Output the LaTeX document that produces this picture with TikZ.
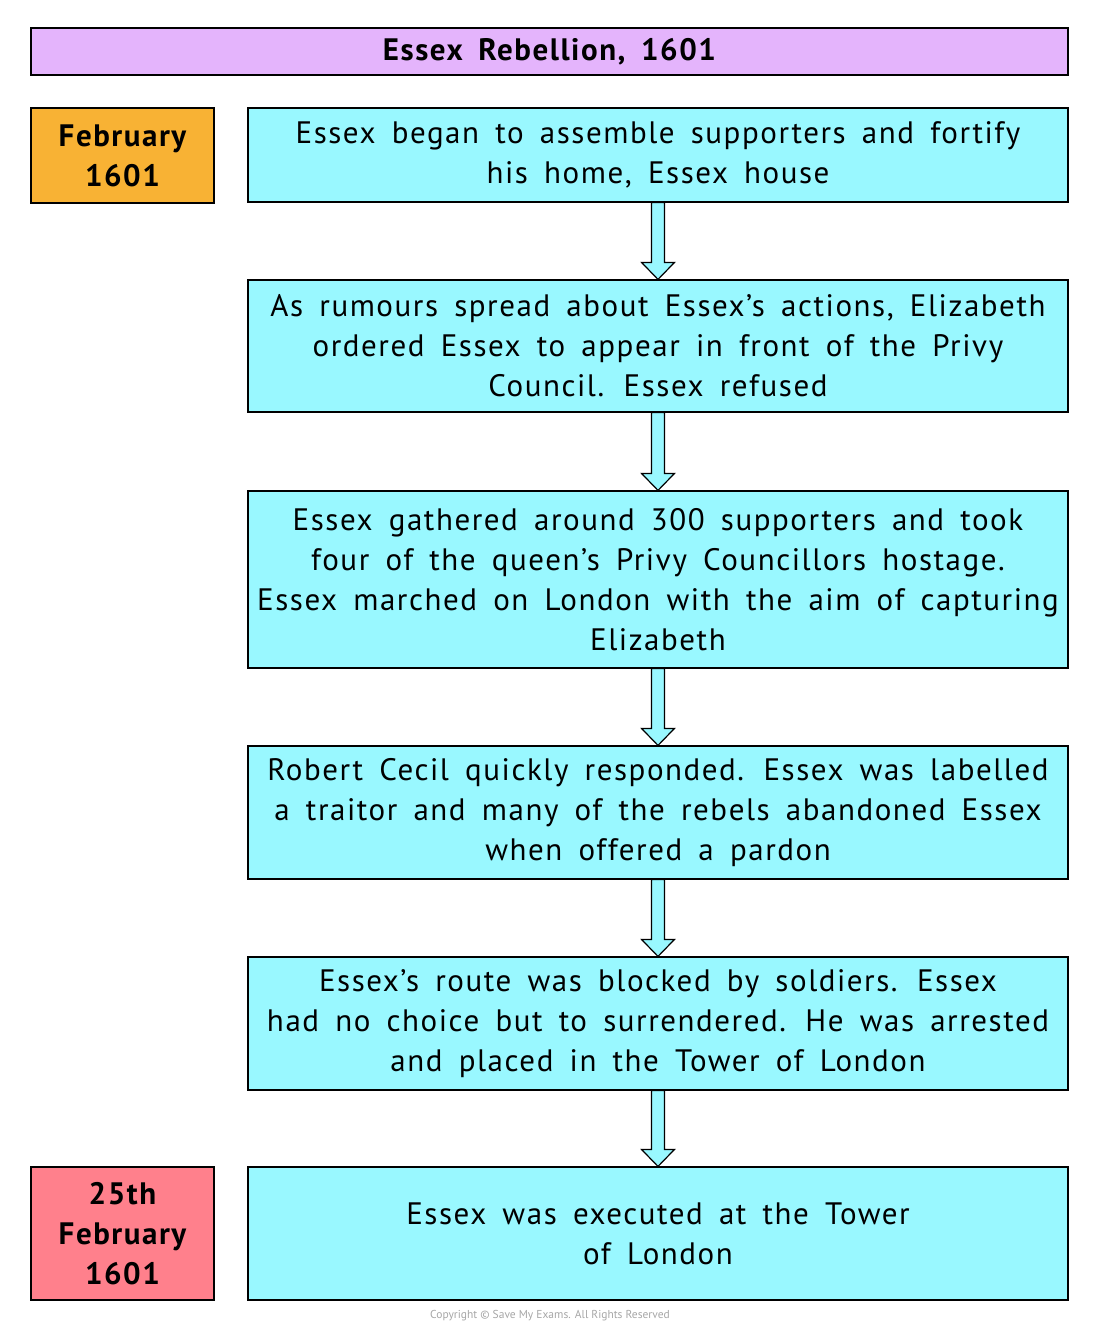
\documentclass[tikz,border=0pt]{standalone}
\usepackage{fontspec}
\setmainfont[WordSpace=1.65,LetterSpace=5]{PT Sans}
\newfontfamily\copyfont{PT Sans}
\usepackage{tikz}
\usetikzlibrary{positioning,calc}

\definecolor{titlepurple}{RGB}{228,180,252}
\definecolor{dateorange}{RGB}{248,178,52}
\definecolor{datered}{RGB}{255,128,140}
\definecolor{eventcyan}{RGB}{153,248,255}

\begin{document}
\begin{tikzpicture}[x=1pt, y=-1pt, thick,
        event node/.style={rectangle,draw,line width=1.2pt,fill=eventcyan,minimum width=820pt,align=center,
            font=\fontsize{31}{40}\selectfont,inner sep=0pt},
        date node/.style={rectangle,draw,line width=1.2pt,minimum width=183pt,align=center,
            font=\fontsize{31}{40}\selectfont\bfseries,inner sep=0pt},
        block arrow/.style={draw,line width=1.2pt,fill=eventcyan,to path={
            let \p1=(\tikztostart.south), \p2=(\tikztotarget.north) in
            (\x1-6.5pt,\y1) -- (\x1-6.5pt,\y2+17pt) -- (\x1-16.5pt,\y2+17pt) -- (\x1,\y2)
            -- (\x1+16.5pt,\y2+17pt) -- (\x1+6.5pt,\y2+17pt) -- (\x1+6.5pt,\y1) -- cycle}}]
    \useasboundingbox (0,0) rectangle (1100,1330);

    \node[rectangle,draw,line width=1.2pt,fill=titlepurple,minimum width=1037pt,minimum height=47pt,
        font=\fontsize{31}{40}\selectfont\bfseries] (title) at (549.5,51.5) {Essex Rebellion, 1601};

    \node[date node,fill=dateorange,minimum height=95pt] (feb) at (122.5,155.5) {February\\1601};
    \node[date node,fill=datered,minimum height=133pt] (exec) at (122.5,1233.5) {25th\\February\\1601};

    \node[event node,minimum height=94pt] (e1) at (658,155) {Essex began to assemble supporters and fortify\\his home, Essex house};
    \node[event node,minimum height=132pt] (e2) at (658,346) {As rumours spread about Essex’s actions, Elizabeth\\ordered Essex to appear in front of the Privy\\Council. Essex refused};
    \node[event node,minimum height=177pt] (e3) at (658,579.5) {Essex gathered around 300 supporters and took\\four of the queen’s Privy Councillors hostage.\\Essex marched on London with the aim of capturing\\Elizabeth};
    \node[event node,minimum height=133pt] (e4) at (658,812.5) {Robert Cecil quickly responded. Essex was labelled\\a traitor and many of the rebels abandoned Essex\\when offered a pardon};
    \node[event node,minimum height=133pt] (e5) at (658,1023.5) {Essex’s route was blocked by soldiers. Essex\\had no choice but to surrendered. He was arrested\\and placed in the Tower of London};
    \node[event node,minimum height=133pt] (e6) at (658,1233.5) {Essex was executed at the Tower\\of London};

    \node[text=gray!70,font=\copyfont\fontsize{11.5}{13}\selectfont] (copy) at (550,1316) {Copyright © Save My Exams. All Rights Reserved};

    \path
        (e1) edge[block arrow] (e2)
        (e2) edge[block arrow] (e3)
        (e3) edge[block arrow] (e4)
        (e4) edge[block arrow] (e5)
        (e5) edge[block arrow] (e6);
\end{tikzpicture}
\end{document}
